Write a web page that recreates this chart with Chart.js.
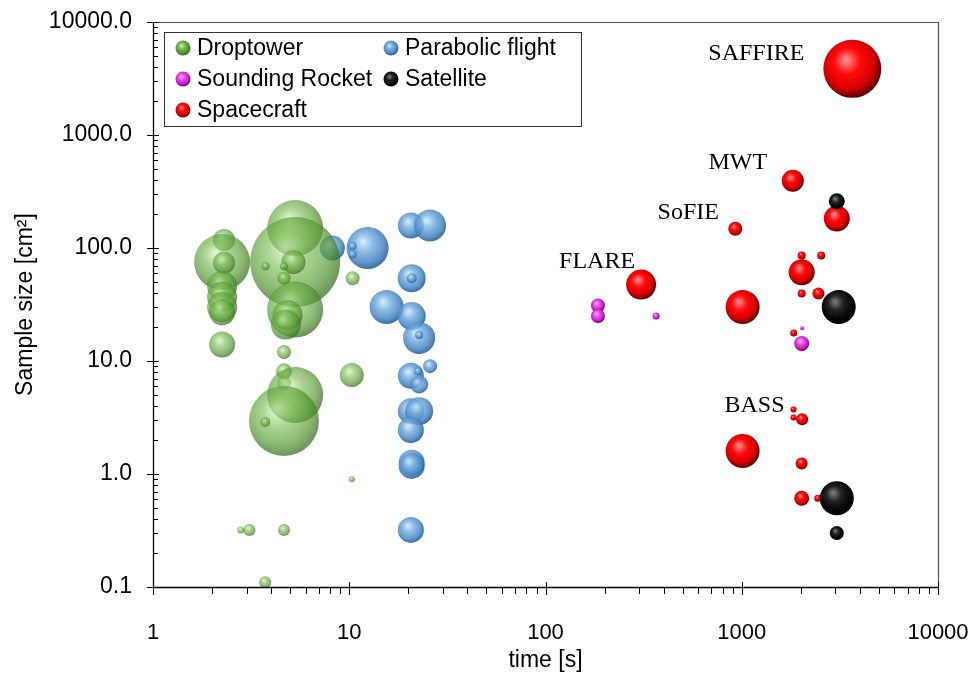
<!DOCTYPE html>
<html>
<head>
<meta charset="utf-8">
<script src="https://cdn.jsdelivr.net/npm/chart.js@4/dist/chart.umd.min.js"></script>
<style>
  html, body { margin: 0; padding: 0; background: #fff; }
  canvas { display: block; }
</style>
</head>
<body>
<canvas id="c" width="977" height="675"></canvas>
<script>
// Each entry: [time (s), sample size (cm²), bubble radius]
const droptower = [
  [2.3, 118, 11], [2.25, 75, 28], [2.3, 74, 11], [2.25, 46, 15], [2.25, 37, 15],
  [2.25, 30, 15], [2.25, 27, 13], [2.25, 14, 13],
  [5.3, 150, 28], [5.3, 75, 45], [5.2, 75, 12], [3.75, 69, 4], [4.65, 69, 4],
  [4.65, 54, 6.5], [5.3, 28.5, 28], [4.85, 25.5, 15], [4.75, 21, 15], [4.65, 12, 7],
  [10.4, 54, 7], [10.3, 7.5, 12], [4.65, 8.1, 8], [4.65, 6.4, 7], [5.3, 5, 28],
  [4.65, 2.95, 35], [3.73, 2.88, 5], [10.3, 0.9, 3], [2.8, 0.32, 3.5],
  [3.1, 0.32, 6], [4.65, 0.32, 6], [3.73, 0.11, 6]
];
const parabolicFlight = [
  [8.2, 100, 12.5], [12.4, 100, 21], [10.4, 104, 4], [10.4, 88, 4],
  [20.6, 158, 13], [25.8, 158, 16], [20.8, 54, 14], [20.8, 54, 5],
  [15.5, 30, 17], [20.8, 25, 14], [22.7, 16, 16], [22.7, 17, 4],
  [25.8, 9, 7], [20.6, 7.4, 13], [22.4, 8.1, 4], [22.7, 6.2, 9],
  [20.6, 3.6, 13], [22.7, 3.6, 14], [20.6, 2.45, 13], [20.8, 1.26, 13],
  [20.8, 1.18, 13], [20.6, 0.32, 13]
];
const soundingRocket = [
  [185, 31, 7], [185, 25, 7], [366, 25, 3.5], [2030, 19.5, 2], [2020, 14.3, 7.5]
];
const satellite = [
  [3050, 259, 8], [3120, 30, 17], [3050, 0.61, 17], [3050, 0.30, 7]
];
const spacecraft = [
  [3660, 3850, 29], [1820, 394, 11], [3050, 182, 13], [927, 148, 7],
  [2020, 86, 4], [2540, 86, 4], [2020, 61, 13], [307, 47.5, 15],
  [2020, 39.5, 4], [2460, 39.5, 6], [1010, 30, 17], [1840, 17.7, 3.5],
  [1835, 3.73, 3], [1835, 3.16, 3], [2030, 3.05, 6], [1010, 1.6, 17],
  [2020, 1.24, 6], [2020, 0.61, 7.5], [2440, 0.61, 3.5]
];

const seriesNames = ['Droptower', 'Parabolic flight', 'Sounding Rocket', 'Satellite', 'Spacecraft'];

// Named experiments and the spacecraft point each one refers to
const missionNames = ['SAFFIRE', 'MWT', 'SoFIE', 'FLARE', 'BASS'];
const missionPoints = [0, 1, 3, 7, 12];

const xTickValues = [1, 10, 100, 1000, 10000];
const xTickLabels = ['1', '10', '100', '1000', '10000'];
const yTickValues = [0.1, 1, 10, 100, 1000, 10000];
const yTickLabels = ['0.1', '1.0', '10.0', '100.0', '1000.0', '10000.0'];

// Shading palettes for the sphere look: highlight, body, shade, edge
const palettes = [
  { hi: 'rgba(205,238,175,0.6)', base: 'rgba(120,185,80,0.62)', dark: 'rgba(82,150,48,0.68)', edge: 'rgba(55,112,32,0.72)', solid: '#7cb957' },
  { hi: 'rgba(200,230,252,0.82)', base: 'rgba(115,172,222,0.82)', dark: 'rgba(72,135,195,0.86)', edge: 'rgba(42,95,155,0.88)', solid: '#6fa8dc' },
  { hi: '#ffa8ff', base: '#ea48ea', dark: '#c21ec2', edge: '#6e006e', solid: '#e040e0' },
  { hi: '#7a7a7a', base: '#222222', dark: '#050505', edge: '#000000', solid: '#000000' },
  { hi: '#ff8a8a', base: '#ff0a0a', dark: '#d40000', edge: '#650000', solid: '#ff0000' }
];

function opaque(p) {
  const f = (s) => s.replace(/,\s*[\d.]+\)$/, ',1)');
  return { hi: f(p.hi), base: f(p.base), dark: f(p.dark), edge: f(p.edge) };
}

function sphereFill(c2d, x, y, r, p) {
  const g = c2d.createRadialGradient(x - r * 0.22, y - r * 0.32, r * 0.04, x - r * 0.1, y - r * 0.15, r * 1.12);
  g.addColorStop(0, p.hi);
  g.addColorStop(0.38, p.base);
  g.addColorStop(0.78, p.dark);
  g.addColorStop(1, p.edge);
  return g;
}

function scriptedFill(p) {
  return (ctx) => {
    const chart = ctx.chart;
    const raw = ctx.raw;
    if (!raw || !chart.chartArea || !chart.scales.x) return p.solid;
    const x = chart.scales.x.getPixelForValue(raw.x);
    const y = chart.scales.y.getPixelForValue(raw.y);
    return sphereFill(chart.ctx, x, y, raw.r, p);
  };
}

const groups = [droptower, parabolicFlight, soundingRocket, satellite, spacecraft];
const datasets = groups.map((g, i) => ({
  label: seriesNames[i],
  data: g.map(([t, s, r]) => ({ x: t, y: s, r: r })),
  backgroundColor: scriptedFill(palettes[i]),
  borderWidth: 0,
  hoverBorderWidth: 0
}));

const FONT_SANS = "'Liberation Sans', Arial, sans-serif";

// Frame, minor/major tick marks, legend box and experiment names
const decorations = {
  id: 'decorations',
  afterDraw(chart) {
    const c = chart.ctx;
    const a = chart.chartArea;
    const xs = chart.scales.x, ys = chart.scales.y;
    c.save();
    // top and right frame
    c.strokeStyle = '#555';
    c.lineWidth = 1.2;
    c.beginPath();
    c.moveTo(a.left, a.top + 0.5); c.lineTo(a.right + 0.5, a.top + 0.5); c.lineTo(a.right + 0.5, a.bottom);
    c.stroke();
    // axes
    c.strokeStyle = '#000';
    c.lineWidth = 1.3;
    c.beginPath();
    c.moveTo(a.left + 0.5, a.top); c.lineTo(a.left + 0.5, a.bottom + 0.5); c.lineTo(a.right, a.bottom + 0.5);
    c.stroke();
    c.lineWidth = 1;
    c.beginPath();
    for (let d = 0; d < 4; d++) {
      const base = Math.pow(10, d);
      for (let m = 1; m <= 10; m++) {
        const v = base * m;
        const px = Math.round(xs.getPixelForValue(v)) + 0.5;
        if (m === 1 || m === 10) { c.moveTo(px, a.bottom - 5); c.lineTo(px, a.bottom + 8); }
        else { c.moveTo(px, a.bottom); c.lineTo(px, a.bottom + 7); }
      }
    }
    for (let d = -1; d < 4; d++) {
      const base = Math.pow(10, d);
      for (let m = 1; m <= 10; m++) {
        const v = base * m;
        const py = Math.round(ys.getPixelForValue(v)) + 0.5;
        if (m === 1 || m === 10) { c.moveTo(a.left - 6, py); c.lineTo(a.left + 6, py); }
        else { c.moveTo(a.left, py); c.lineTo(a.left + 5, py); }
      }
    }
    c.stroke();

    // legend
    const lx = 164.5, ly = 32.5, lw = 417, lh = 94;
    c.fillStyle = '#fff';
    c.fillRect(lx, ly, lw, lh);
    c.strokeStyle = '#333';
    c.lineWidth = 1;
    c.strokeRect(lx, ly, lw, lh);
    c.font = '23px ' + FONT_SANS;
    c.textBaseline = 'middle';
    c.textAlign = 'left';
    chart.data.datasets.forEach((ds, i) => {
      const col = i % 2, row = Math.floor(i / 2);
      const mx = col === 0 ? 183 : 391;
      const my = 48 + row * 31;
      c.fillStyle = sphereFill(c, mx, my, 7.5, opaque(palettes[i]));
      c.beginPath(); c.arc(mx, my, 7.5, 0, Math.PI * 2); c.fill();
      c.fillStyle = '#000';
      c.fillText(ds.label, mx + 14, my + 1);
    });

    // experiment names beside their marks
    const offsets = { SAFFIRE: [-96, -15], MWT: [-55, -18], SoFIE: [-47, -16], FLARE: [-44, -23], BASS: [-39, -4] };
    c.font = "24px 'Liberation Serif', 'Times New Roman', serif";
    c.textAlign = 'center';
    c.fillStyle = '#000';
    missionNames.forEach((name, k) => {
      const pt = spacecraft[missionPoints[k]];
      const px = xs.getPixelForValue(pt[0]);
      const py = ys.getPixelForValue(pt[1]);
      const o = offsets[name];
      c.fillText(name, px + o[0], py + o[1]);
    });
    c.restore();
  }
};

new Chart(document.getElementById('c'), {
  type: 'bubble',
  data: { datasets },
  plugins: [decorations],
  options: {
    responsive: false,
    animation: false,
    devicePixelRatio: 1,
    layout: { autoPadding: false, padding: { top: 22, right: 39, left: 0, bottom: 0 } },
    plugins: { legend: { display: false }, tooltip: { enabled: false } },
    events: [],
    scales: {
      x: {
        type: 'logarithmic',
        min: 1, max: 10000,
        grid: { display: false, drawTicks: false },
        border: { display: false },
        afterBuildTicks: (s) => { s.ticks = xTickValues.map(v => ({ value: v })); },
        afterFit: (s) => { s.height = 88; s.paddingLeft = 0; s.paddingRight = 0; },
        ticks: {
          autoSkip: false, maxRotation: 0, padding: 33, color: '#000',
          font: { family: FONT_SANS, size: 22 },
          callback: (v, i) => xTickLabels[i]
        },
        title: { display: true, text: 'time [s]', color: '#000', font: { family: FONT_SANS, size: 23 }, padding: { top: 4, bottom: 1 } }
      },
      y: {
        type: 'logarithmic',
        min: 0.1, max: 10000,
        grid: { display: false, drawTicks: false },
        border: { display: false },
        afterBuildTicks: (s) => { s.ticks = yTickValues.map(v => ({ value: v })); },
        afterFit: (s) => { s.width = 153; s.paddingTop = 0; s.paddingBottom = 0; },
        ticks: {
          autoSkip: false, padding: 21, color: '#000',
          font: { family: FONT_SANS, size: 23 },
          callback: (v, i) => yTickLabels[i]
        },
        title: { display: true, text: 'Sample size [cm²]', color: '#000', font: { family: FONT_SANS, size: 23 }, padding: { top: 12, bottom: 4 } }
      }
    }
  }
});
</script>
</body>
</html>
